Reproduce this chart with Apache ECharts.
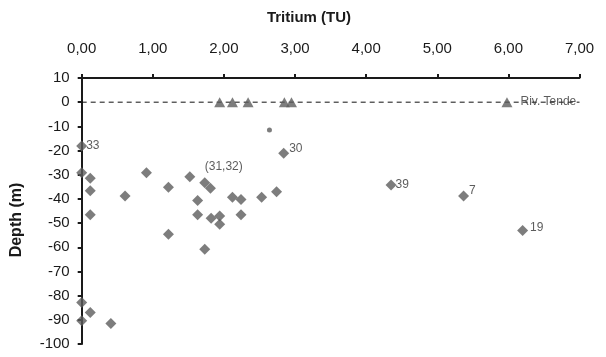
<!DOCTYPE html>
<html>
<head>
<meta charset="utf-8">
<script src="https://cdn.jsdelivr.net/npm/echarts@6/dist/echarts.min.js"></script>
<style>
html,body{margin:0;padding:0;background:#fff;}
#chart{width:606px;height:357px;}
</style>
</head>
<body>
<div id="chart"></div>
<script>
// ---- Data ----
const xTickValues = [0, 1, 2, 3, 4, 5, 6, 7];
const yTickValues = [10, 0, -10, -20, -30, -40, -50, -60, -70, -80, -90, -100];

// Well samples (diamonds)
const wellTritium = [0.00, 0.00, 0.12, 0.12, 0.12, 0.91, 0.61, 1.22, 1.22, 1.52, 1.73, 1.81, 1.63, 1.63, 1.82, 1.94, 1.94, 1.73, 2.12, 2.24, 2.24, 2.53, 2.74, 2.84, 4.35, 5.37, 6.20, 0.00, 0.12, 0.00, 0.41];
const wellDepth   = [-18.1, -29.2, -31.5, -36.6, -46.6, -29.2, -38.8, -35.2, -54.6, -30.8, -33.3, -35.6, -40.7, -46.6, -48.0, -47.1, -50.5, -60.8, -39.3, -40.2, -46.6, -39.3, -37.0, -21.1, -34.2, -38.8, -53.1, -82.8, -87.0, -90.4, -91.5];
const wellLabels  = ['33', '', '', '', '', '', '', '', '', '', '(31,32)', '', '', '', '', '', '', '', '', '', '', '', '', '30', '39', '7', '19', '', '', '', ''];

// River samples (triangles)
const riverTritium = [1.94, 2.12, 2.34, 2.85, 2.95, 5.98];
const riverDepth   = [0, 0, 0, 0, 0, 0];
const riverLabels  = ['', '', '', '', '', 'Riv. Tende'];

// Small circle
const circleTritium = [2.64];
const circleDepth   = [-11.5];

// Reference dashed line at depth 0
const refLineTritium = [0, 7];
const refLineDepth   = [0, 0];

// ---- Label styling by label text ----
const labelStyleByText = {
  '33':        {position: 'right', distance: -1, offset: [0, 0]},
  '(31,32)':   {position: 'top', distance: 5, offset: [19, 0]},
  '30':        {position: 'right', distance: 0, offset: [0, -5]},
  '39':        {position: 'right', distance: -1, offset: [0, 0]},
  '7':         {position: 'right', distance: 0, offset: [0, -5]},
  '19':        {position: 'right', distance: 2, offset: [0, -3]},
  'Riv. Tende':{position: 'right', distance: 8, offset: [0, 0]}
};

function buildPoints(xs, ys, labels) {
  return xs.map((x, i) => {
    const item = {value: [x, ys[i]]};
    const t = labels ? labels[i] : '';
    if (t) {
      const st = labelStyleByText[t] || {position: 'right'};
      item.label = Object.assign({show: true, formatter: t, color: '#333', fontSize: 12, fontFamily: 'Liberation Sans, Arial, sans-serif'}, st);
    }
    return item;
  });
}

const markerColor = '#5c5c5c';
const axisColor = '#1a1a1a';
const font = 'Liberation Sans, Arial, sans-serif';

const chart = echarts.init(document.getElementById('chart'), null, {renderer: 'canvas'});
chart.setOption({
  animation: false,
  backgroundColor: '#ffffff',
  grid: {left: 81.7, right: 26.5, top: 78, bottom: 13, containLabel: false},
  graphic: [
    {type: 'text', x: 309, y: 18, style: {text: 'Tritium (TU)', font: 'bold 15px ' + font, fill: '#1a1a1a', textAlign: 'center', textVerticalAlign: 'middle'}},
    {type: 'text', x: 17, y: 220, rotation: Math.PI / 2, style: {text: 'Depth (m)', font: 'bold 16px ' + font, fill: '#1a1a1a', textAlign: 'center', textVerticalAlign: 'middle'}}
  ],
  xAxis: {
    type: 'value', position: 'top', min: xTickValues[0], max: xTickValues[xTickValues.length - 1], interval: 1,
    axisLine: {show: true, onZero: false, lineStyle: {color: axisColor, width: 2}},
    axisTick: {show: true, inside: false, length: 4, lineStyle: {color: axisColor, width: 2}},
    axisLabel: {margin: 22, fontSize: 15, fontFamily: font, color: '#1a1a1a', formatter: v => v.toFixed(2).replace('.', ',')},
    splitLine: {show: false}
  },
  yAxis: {
    type: 'value', min: yTickValues[yTickValues.length - 1], max: yTickValues[0], interval: 10,
    axisLine: {show: true, onZero: false, lineStyle: {color: axisColor, width: 2}},
    axisTick: {show: true, inside: false, length: 4, lineStyle: {color: axisColor, width: 2}},
    axisLabel: {margin: 12, fontSize: 15, fontFamily: font, color: '#1a1a1a', formatter: v => String(v)},
    splitLine: {show: false}
  },
  series: [
    {
      type: 'line', data: refLineTritium.map((x, i) => [x, refLineDepth[i]]),
      symbol: 'none', silent: true, z: 1,
      lineStyle: {color: '#111', width: 1, type: [5, 4]}
    },
    {
      type: 'scatter', symbol: 'diamond', symbolSize: 11, z: 3,
      itemStyle: {color: markerColor},
      data: buildPoints(wellTritium, wellDepth, wellLabels)
    },
    {
      type: 'scatter', symbol: 'triangle', symbolSize: [11, 10], z: 3,
      itemStyle: {color: markerColor},
      data: buildPoints(riverTritium, riverDepth, riverLabels)
    },
    {
      type: 'scatter', symbol: 'circle', symbolSize: 5, z: 3,
      itemStyle: {color: markerColor},
      data: buildPoints(circleTritium, circleDepth, null)
    }
  ]
});
</script>
</body>
</html>
